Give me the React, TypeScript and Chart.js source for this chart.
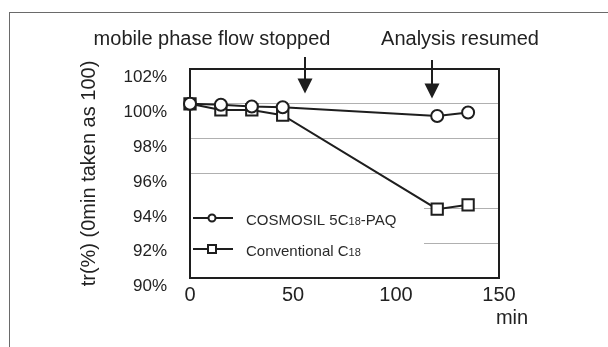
import React, { useEffect, useRef } from 'react';
import { Chart, registerables } from 'chart.js';

Chart.register(...registerables);

// ---- data ----
const timeMin = [0, 15, 30, 45, 120, 135];
const cosmosilValues = [100, 99.95, 99.85, 99.8, 99.3, 99.5];
const conventionalValues = [100, 99.65, 99.65, 99.35, 93.95, 94.2];
const seriesLabels = ['COSMOSIL 5C18-PAQ', 'Conventional C18'];
const legendParts: [string, boolean][][] = [
  [['COSMOSIL 5C', false], ['18', true], ['-PAQ', false]],
  [['Conventional C', false], ['18', true]],
];
const pointStyles = ['circle', 'rect'];
const xTickValues = [0, 50, 100, 150];
const yTickValues = [90, 92, 94, 96, 98, 100, 102];
const yTitle = 'tr(%) (0min taken as 100)';
const xUnit = 'min';
const eventTexts = ['mobile phase flow stopped', 'Analysis resumed'];
const eventTimes = [56, 117.5];
const eventArrowTips = [100.6, 100.3];

const FONT = '"Liberation Sans", Arial, Helvetica, sans-serif';
const INK = '#1e1e1e';

const decor = {
  id: 'decor',
  beforeDatasetsDraw(chart: any) {
    const { ctx, chartArea: a, scales } = chart;
    const xs = scales.x;
    ctx.save();
    // small inner ticks on the x axis
    ctx.strokeStyle = '#b8b8b8';
    ctx.lineWidth = 1;
    xTickValues.slice(1, -1).forEach((v) => {
      const px = Math.round(xs.getPixelForValue(v)) + 0.5;
      ctx.beginPath();
      ctx.moveTo(px, a.bottom);
      ctx.lineTo(px, a.bottom - 4);
      ctx.stroke();
    });
    // legend box (white, covers grid)
    ctx.fillStyle = '#ffffff';
    ctx.fillRect(a.left + 1, a.top + 122, 233, a.bottom - (a.top + 122));
    // legend entries
    const rows = [a.top + 149, a.top + 180];
    rows.forEach((ry, i) => {
      ctx.strokeStyle = INK;
      ctx.lineWidth = 2;
      ctx.beginPath();
      ctx.moveTo(a.left + 3, ry);
      ctx.lineTo(a.left + 43, ry);
      ctx.stroke();
      ctx.fillStyle = '#fff';
      const mx = a.left + 22;
      if (pointStyles[i] === 'circle') {
        ctx.beginPath();
        ctx.arc(mx, ry, 3.5, 0, Math.PI * 2);
        ctx.fill();
        ctx.stroke();
      } else {
        ctx.fillRect(mx - 4, ry - 4, 8, 8);
        ctx.strokeRect(mx - 4, ry - 4, 8, 8);
      }
      let tx = a.left + 56;
      ctx.fillStyle = '#2a2a2a';
      ctx.textAlign = 'left';
      ctx.textBaseline = 'alphabetic';
      legendParts[i].forEach(([t, sub]) => {
        ctx.font = (sub ? '11px ' : '15px ') + FONT;
        ctx.fillText(t, tx, ry + 6.5);
        tx += ctx.measureText(t).width;
      });
    });
    // plot frame
    ctx.strokeStyle = INK;
    ctx.lineWidth = 2;
    ctx.strokeRect(a.left, a.top, a.right - a.left, a.bottom - a.top);
    ctx.restore();
  },
  afterDraw(chart: any) {
    const { ctx, chartArea: a, scales } = chart;
    const xs = scales.x;
    const ys = scales.y;
    ctx.save();
    ctx.fillStyle = '#222';
    ctx.font = '20px ' + FONT;
    ctx.textAlign = 'center';
    ctx.textBaseline = 'middle';
    ctx.fillText(eventTexts[0], a.left + 22, a.top - 30);
    ctx.fillText(eventTexts[1], a.left + 270, a.top - 30);
    ctx.fillText(xUnit, a.right + 13, a.bottom + 40);
    // arrows
    ctx.strokeStyle = INK;
    ctx.fillStyle = INK;
    ctx.lineWidth = 2;
    const tops = [a.top - 12, a.top - 9];
    eventTimes.forEach((t, i) => {
      const px = Math.round(xs.getPixelForValue(t));
      const tip = ys.getPixelForValue(eventArrowTips[i]);
      ctx.beginPath();
      ctx.moveTo(px, tops[i]);
      ctx.lineTo(px, tip - 10);
      ctx.stroke();
      ctx.beginPath();
      ctx.moveTo(px - 7.5, tip - 15);
      ctx.lineTo(px + 7.5, tip - 15);
      ctx.lineTo(px, tip);
      ctx.closePath();
      ctx.fill();
    });
    ctx.restore();
  },
};

export default function App() {
  const ref = useRef<HTMLCanvasElement | null>(null);
  useEffect(() => {
    document.body.style.margin = '0';
    document.body.style.overflow = 'hidden';
    if (!ref.current) return;
    const mk = (vals: number[]) => timeMin.map((t, i) => ({ x: t, y: vals[i] }));
    const chart = new Chart(ref.current, {
      type: 'line',
      data: {
        datasets: [
          {
            label: seriesLabels[0],
            data: mk(cosmosilValues),
            borderColor: INK,
            borderWidth: 2,
            pointStyle: pointStyles[0] as any,
            pointRadius: 6,
            pointBorderWidth: 2,
            pointBackgroundColor: '#fff',
            pointBorderColor: INK,
            tension: 0,
            clip: false as any,
          },
          {
            label: seriesLabels[1],
            data: mk(conventionalValues),
            borderColor: INK,
            borderWidth: 2,
            pointStyle: pointStyles[1] as any,
            pointRadius: 8,
            pointBorderWidth: 2,
            pointBackgroundColor: '#fff',
            pointBorderColor: INK,
            tension: 0,
            clip: false as any,
          },
        ],
      },
      options: {
        animation: false,
        responsive: false,
        maintainAspectRatio: false,
        events: [],
        layout: { padding: { left: 0, top: 69, right: 109, bottom: 0 } },
        plugins: { legend: { display: false }, tooltip: { enabled: false } },
        scales: {
          x: {
            type: 'linear',
            min: 0,
            max: 150,
            afterBuildTicks: (s: any) => {
              s.ticks = xTickValues.map((v) => ({ value: v }));
            },
            afterFit: (s: any) => {
              s.height = 69;
            },
            grid: { display: false, drawTicks: false },
            border: { display: false },
            ticks: {
              padding: 5,
              color: '#222',
              font: { family: FONT, size: 20 },
              maxRotation: 0,
              autoSkip: false,
            },
          },
          y: {
            min: 90,
            max: 102,
            afterBuildTicks: (s: any) => {
              s.ticks = yTickValues.map((v) => ({ value: v }));
            },
            afterFit: (s: any) => {
              s.width = 190;
            },
            grid: { color: '#b0b0b0', lineWidth: 1, drawTicks: false },
            border: { display: false },
            ticks: {
              padding: 23,
              labelOffset: 8.5,
              color: '#222',
              font: { family: FONT, size: 17 },
              autoSkip: false,
              callback: (v: any) => v + '%',
            },
            title: {
              display: true,
              text: yTitle,
              color: '#222',
              font: { family: FONT, size: 20 },
              padding: { top: 77.5, bottom: 0 },
            },
          },
        },
      },
      plugins: [decor],
    });
    return () => chart.destroy();
  }, []);

  return (
    <div style={{ width: 608, height: 347, position: 'relative', overflow: 'hidden', background: '#fff' }}>
      <div
        style={{
          position: 'absolute',
          left: 9,
          top: 12,
          width: 700,
          height: 400,
          borderTop: '1px solid #6a6a6a',
          borderLeft: '1px solid #6a6a6a',
        }}
      />
      <canvas ref={ref} width={608} height={347} style={{ position: 'absolute', left: 0, top: 0, width: 608, height: 347 }} />
    </div>
  );
}
